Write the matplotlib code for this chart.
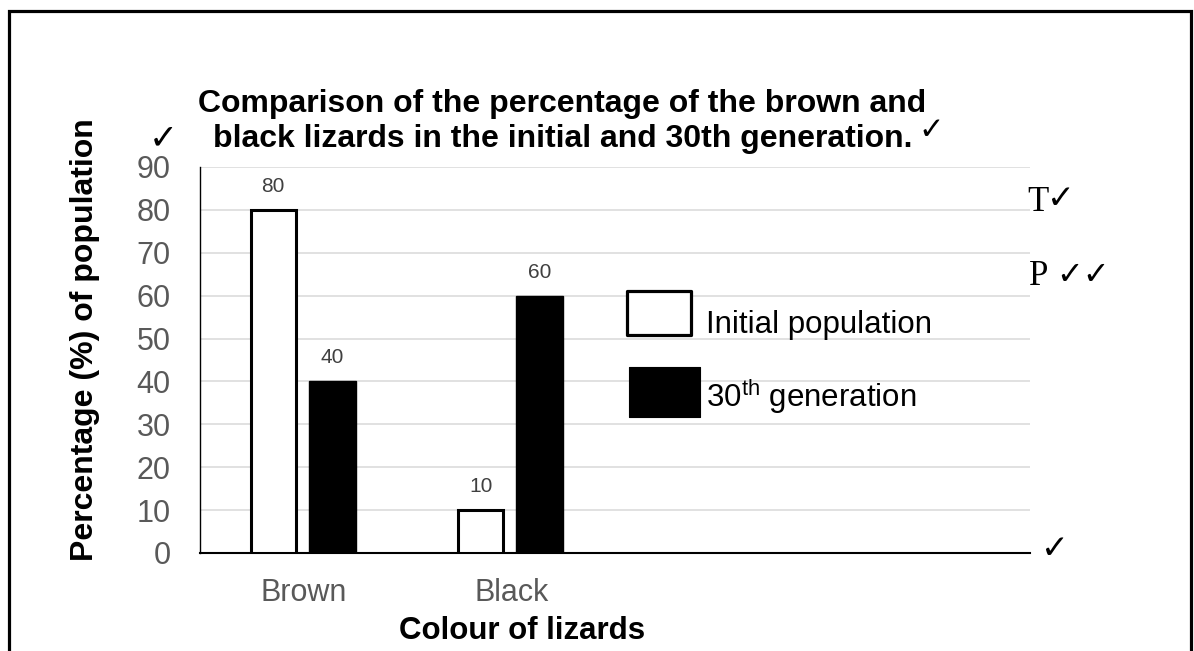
import matplotlib
matplotlib.use("Agg")
import matplotlib.pyplot as plt
from matplotlib.patches import Rectangle
import numpy as np

plt.rcParams['font.family'] = ['Liberation Sans', 'DejaVu Sans']
plt.rcParams['mathtext.fontset'] = 'custom'
plt.rcParams['mathtext.rm'] = 'Liberation Sans'

# data
categories = ["Brown", "Black", "", ""]
initial_population = [80, 10]
generation_30 = [40, 60]
y_ticks = [0, 10, 20, 30, 40, 50, 60, 70, 80, 90]

W, H = 1194, 651
fig = plt.figure(figsize=(W / 100, H / 100), dpi=100)


def fx(px):
    return px / W


def fy(py):
    return 1 - py / H


ax = fig.add_axes([fx(200), fy(553), (1030 - 200) / W, (553 - 167) / H])

x = np.arange(len(categories))
n = len(initial_population)
bars1 = ax.bar(x[:n] - 0.147, initial_population, width=0.215, color='white',
               edgecolor='black', linewidth=2.2, zorder=3)
bars2 = ax.bar(x[:n] + 0.137, generation_30, width=0.225, color='black',
               edgecolor='black', linewidth=1, zorder=3)

# value labels
for bars, vals in ((bars1, initial_population), (bars2, generation_30)):
    for b, v in zip(bars, vals):
        ax.annotate(str(v), (b.get_x() + b.get_width() / 2, v),
                    xytext=(0, 13), textcoords='offset points',
                    ha='center', va='baseline', fontsize=15, color='#404040')

ax.set_xlim(-0.5, len(categories) - 0.5)
ax.set_ylim(0, 90)
ax.set_xticks(x)
ax.set_xticklabels(categories)
ax.set_yticks(y_ticks)
ax.tick_params(length=0, labelsize=22, labelcolor='#595959')
ax.tick_params(axis='y', pad=21)
ax.tick_params(axis='x', pad=18)
ax.yaxis.grid(True, color='#d9d9d9', linewidth=1.1)
ax.set_axisbelow(True)
for s in ('top', 'right'):
    ax.spines[s].set_visible(False)
ax.spines['left'].set_linewidth(1.0)
ax.spines['bottom'].set_linewidth(1.5)

ax.set_ylabel('Percentage (%) of population', fontsize=23, fontweight='bold')
ax.yaxis.set_label_coords(-100 / 830, (553 - 340) / 386)
ax.set_xlabel('Colour of lizards', fontsize=22.5, fontweight='bold')
ax.xaxis.set_label_coords((522 - 200) / 830, (553 - 616) / 386)

# title, two lines
fig.text(fx(198), fy(112), 'Comparison of the percentage of the brown and',
         fontsize=23, fontweight='bold', va='baseline')
fig.text(fx(213), fy(147), 'black lizards in the initial and 30th generation.',
         fontsize=23, fontweight='bold', va='baseline')

# marking ticks
chk = dict(family=['DejaVu Sans'], va='baseline', ha='left', color='black')
fig.text(fx(918), fy(139), '\u2713', fontsize=22, **chk)
fig.text(fx(149), fy(148), '\u2713', fontsize=25, **chk)
fig.text(fx(1041), fy(558), '\u2713', fontsize=24, fontweight='bold', **chk)
fig.text(fx(1047), fy(208), '\u2713', fontsize=24, fontweight='bold', **chk)
fig.text(fx(1056), fy(284), '\u2713\u2713', fontsize=23, fontweight='bold',
         **chk)
serif = dict(family=['Liberation Serif'], va='baseline', ha='left', fontsize=25)
fig.text(fx(1027), fy(211), 'T', **serif)
fig.text(fx(1029), fy(285), 'P', **serif)

# legend drawn by hand
fig.add_artist(Rectangle((fx(626.5), fy(334.5)), (690.5 - 626.5) / W,
                         (334.5 - 290.5) / H, transform=fig.transFigure,
                         facecolor='white', edgecolor='black', linewidth=2.3,
                         joinstyle='round'))
fig.add_artist(Rectangle((fx(629), fy(417)), (700 - 629) / W, (417 - 367) / H,
                         transform=fig.transFigure, facecolor='black',
                         edgecolor='black', linewidth=0.8, joinstyle='round'))
fig.text(fx(706), fy(333), 'Initial population', fontsize=22.5, va='baseline')
fig.text(fx(706), fy(407), '30$^{\\mathrm{th}}$ generation', fontsize=22.5,
         va='baseline')

# outer frame
fig.add_artist(Rectangle((fx(8.5), -0.2), (1190.5 - 8.5) / W, fy(10.5) + 0.2,
                         transform=fig.transFigure, fill=False,
                         edgecolor='black', linewidth=2.3))

fig.savefig('out.png', dpi=100)
